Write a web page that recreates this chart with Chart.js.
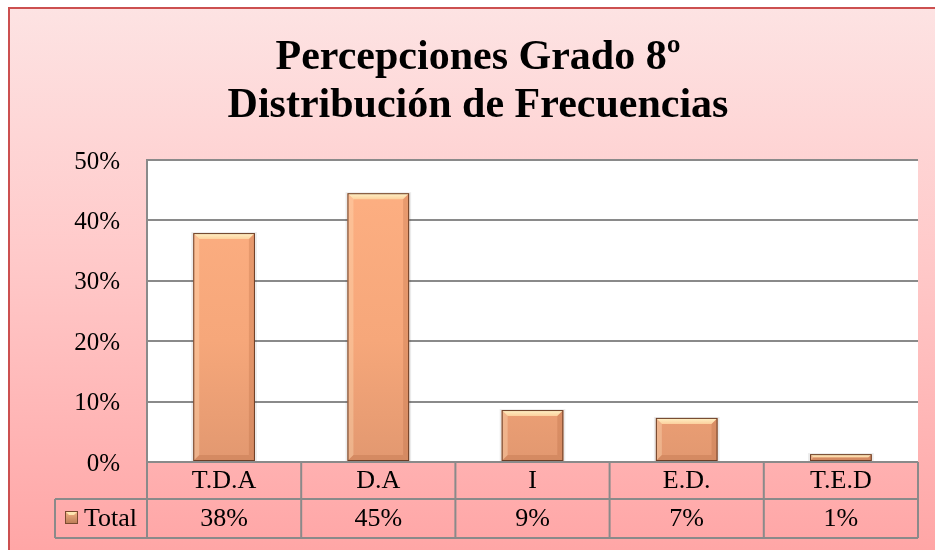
<!DOCTYPE html>
<html>
<head>
<meta charset="utf-8">
<script src="https://cdn.jsdelivr.net/npm/chart.js@4"></script>
<style>
  html, body { margin: 0; padding: 0; background: #fff; }
  #wrap { width: 935px; height: 550px; }
</style>
</head>
<body>
<div id="wrap"><canvas id="grafico" width="935" height="550"></canvas></div>
<script>
const titulo = ['Percepciones Grado 8º', 'Distribución de Frecuencias'];
const categorias = ['T.D.A', 'D.A', 'I', 'E.D.', 'T.E.D'];
const valores = [0.379, 0.445, 0.086, 0.073, 0.013];
const etiquetasTabla = ['38%', '45%', '9%', '7%', '1%'];
const nombreSerie = 'Total';

const FUENTE = '"Liberation Serif", "Times New Roman", serif';
const GRIS = '#8a8a8a';

// fondo rosado + marco rojo + area blanca
const fondo = {
  id: 'fondo',
  beforeDraw(chart) {
    const { ctx, width, height, chartArea: a } = chart;
    ctx.save();
    ctx.fillStyle = '#fff';
    ctx.fillRect(0, 0, width, height);
    const g = ctx.createLinearGradient(0, 8, 0, height);
    g.addColorStop(0, '#fde3e3');
    g.addColorStop(0.45, '#ffcaca');
    g.addColorStop(1, '#ffa6a6');
    ctx.fillStyle = g;
    ctx.fillRect(9, 8, width, height);
    ctx.strokeStyle = '#cc5050';
    ctx.lineWidth = 2;
    ctx.strokeRect(9, 8, width + 10, height + 10);
    ctx.fillStyle = '#fff';
    ctx.fillRect(a.left, a.top, a.right - a.left, a.bottom - a.top);
    ctx.restore();
  },
  afterDraw(chart) {
    const { ctx } = chart;
    ctx.save();
    ctx.fillStyle = '#000';
    ctx.font = 'bold 42px ' + FUENTE;
    ctx.textAlign = 'center';
    ctx.textBaseline = 'middle';
    titulo.forEach((t, i) => ctx.fillText(t, 478, 58 + i * 48));
    ctx.restore();
  }
};

// bisel y sombra de las barras
const bisel = {
  id: 'bisel',
  beforeDatasetsDraw(chart) {
    const { ctx } = chart;
    ctx.save();
    ctx.fillStyle = 'rgba(0,0,0,0.08)';
    chart.getDatasetMeta(0).data.forEach(bar => {
      const l = bar.x - bar.width / 2;
      ctx.fillRect(l - 2, bar.y - 1, bar.width + 4, bar.base - bar.y + 1);
    });
    ctx.restore();
  },
  afterDatasetsDraw(chart) {
    const { ctx } = chart;
    const meta = chart.getDatasetMeta(0);
    ctx.save();
    meta.data.forEach(bar => {
      const l = bar.x - bar.width / 2, r = bar.x + bar.width / 2;
      const t = bar.y, b = bar.base;
      const s = Math.min(6, (b - t) / 2);
      const gt = ctx.createLinearGradient(0, t, 0, t + s);
      gt.addColorStop(0, '#fff3c8');
      gt.addColorStop(1, '#fcd19e');
      ctx.fillStyle = gt;
      ctx.beginPath();
      ctx.moveTo(l, t); ctx.lineTo(r, t); ctx.lineTo(r - s, t + s); ctx.lineTo(l + s, t + s); ctx.closePath();
      ctx.fill();
      ctx.fillStyle = 'rgba(255,225,190,0.35)';
      ctx.beginPath();
      ctx.moveTo(l, t); ctx.lineTo(l + s, t + s); ctx.lineTo(l + s, b - s); ctx.lineTo(l, b); ctx.closePath();
      ctx.fill();
      ctx.fillStyle = 'rgba(170,95,55,0.25)';
      ctx.beginPath();
      ctx.moveTo(r, t); ctx.lineTo(r - s, t + s); ctx.lineTo(r - s, b - s); ctx.lineTo(r, b); ctx.closePath();
      ctx.fill();
      ctx.beginPath();
      ctx.moveTo(l, b); ctx.lineTo(l + s, b - s); ctx.lineTo(r - s, b - s); ctx.lineTo(r, b); ctx.closePath();
      ctx.fill();
      ctx.strokeStyle = '#6b3d25';
      ctx.lineWidth = 1;
      ctx.strokeRect(l + 0.5, t + 0.5, r - l - 1, b - t - 1);
    });
    ctx.restore();
  }
};

// tabla de datos debajo del eje
const tabla = {
  id: 'tabla',
  afterDraw(chart) {
    const { ctx, chartArea: a } = chart;
    const x = chart.scales.x;
    const y0 = a.bottom, y1 = a.bottom + 37, y2 = a.bottom + 76;
    const izq = 55;
    const anchoCol = (a.right - a.left) / categorias.length;
    ctx.save();
    ctx.strokeStyle = GRIS;
    ctx.lineWidth = 2;
    ctx.beginPath();
    ctx.moveTo(a.left, y0); ctx.lineTo(a.right, y0);
    ctx.moveTo(izq, y1); ctx.lineTo(a.right, y1);
    ctx.moveTo(izq, y2); ctx.lineTo(a.right, y2);
    ctx.moveTo(izq, y1); ctx.lineTo(izq, y2);
    for (let i = 0; i <= categorias.length; i++) {
      const cx = a.left + i * anchoCol;
      ctx.moveTo(cx, y0); ctx.lineTo(cx, y2);
    }
    ctx.stroke();

    ctx.fillStyle = '#000';
    ctx.font = '26px ' + FUENTE;
    ctx.textAlign = 'center';
    ctx.textBaseline = 'middle';
    categorias.forEach((c, i) => {
      const cx = x.getPixelForValue(i);
      ctx.fillText(c, cx, (y0 + y1) / 2 + 1);
      ctx.fillText(etiquetasTabla[i], cx, (y1 + y2) / 2 + 1);
    });
    // clave de la serie
    const kx = 65, ky = y1 + 12, k = 13;
    const g = ctx.createLinearGradient(0, ky, 0, ky + k);
    g.addColorStop(0, '#f6b486');
    g.addColorStop(1, '#b97a55');
    ctx.fillStyle = g;
    ctx.fillRect(kx, ky, k, k);
    ctx.fillStyle = '#fde6b0';
    ctx.beginPath();
    ctx.moveTo(kx, ky); ctx.lineTo(kx + k, ky); ctx.lineTo(kx + k - 4, ky + 4); ctx.lineTo(kx + 4, ky + 4); ctx.closePath();
    ctx.fill();
    ctx.strokeStyle = '#7a4a30';
    ctx.lineWidth = 1;
    ctx.strokeRect(kx + 0.5, ky + 0.5, k - 1, k - 1);
    ctx.fillStyle = '#000';
    ctx.textAlign = 'left';
    ctx.fillText(nombreSerie, 84, (y1 + y2) / 2 + 1);
    ctx.restore();
  }
};

function rellenoBarra(context) {
  const chart = context.chart;
  const a = chart.chartArea;
  if (!a) return '#f6a97a';
  const g = chart.ctx.createLinearGradient(0, a.top, 0, a.bottom);
  g.addColorStop(0, '#feb083');
  g.addColorStop(0.6, '#f6a77a');
  g.addColorStop(1, '#e29870');
  return g;
}

new Chart(document.getElementById('grafico'), {
  type: 'bar',
  data: {
    labels: categorias,
    datasets: [{
      label: nombreSerie,
      data: valores,
      backgroundColor: rellenoBarra,
      borderWidth: 0,
      barPercentage: 0.4,
      categoryPercentage: 1
    }]
  },
  options: {
    responsive: false,
    animation: false,
    layout: { padding: { top: 160, right: 17, bottom: 88, left: 0 } },
    plugins: { legend: { display: false }, title: { display: false }, tooltip: { enabled: false } },
    scales: {
      x: { display: false },
      y: {
        min: 0, max: 0.5,
        afterFit(scale) { scale.width = 147; },
        border: { display: true, color: GRIS, width: 2 },
        grid: { color: GRIS, lineWidth: 2, drawTicks: false },
        ticks: {
          stepSize: 0.1,
          padding: 27,
          labelOffset: 2,
          color: '#000',
          font: { family: FUENTE, size: 25 },
          callback: v => Math.round(v * 100) + '%'
        }
      }
    }
  },
  plugins: [fondo, bisel, tabla]
});
</script>
</body>
</html>
